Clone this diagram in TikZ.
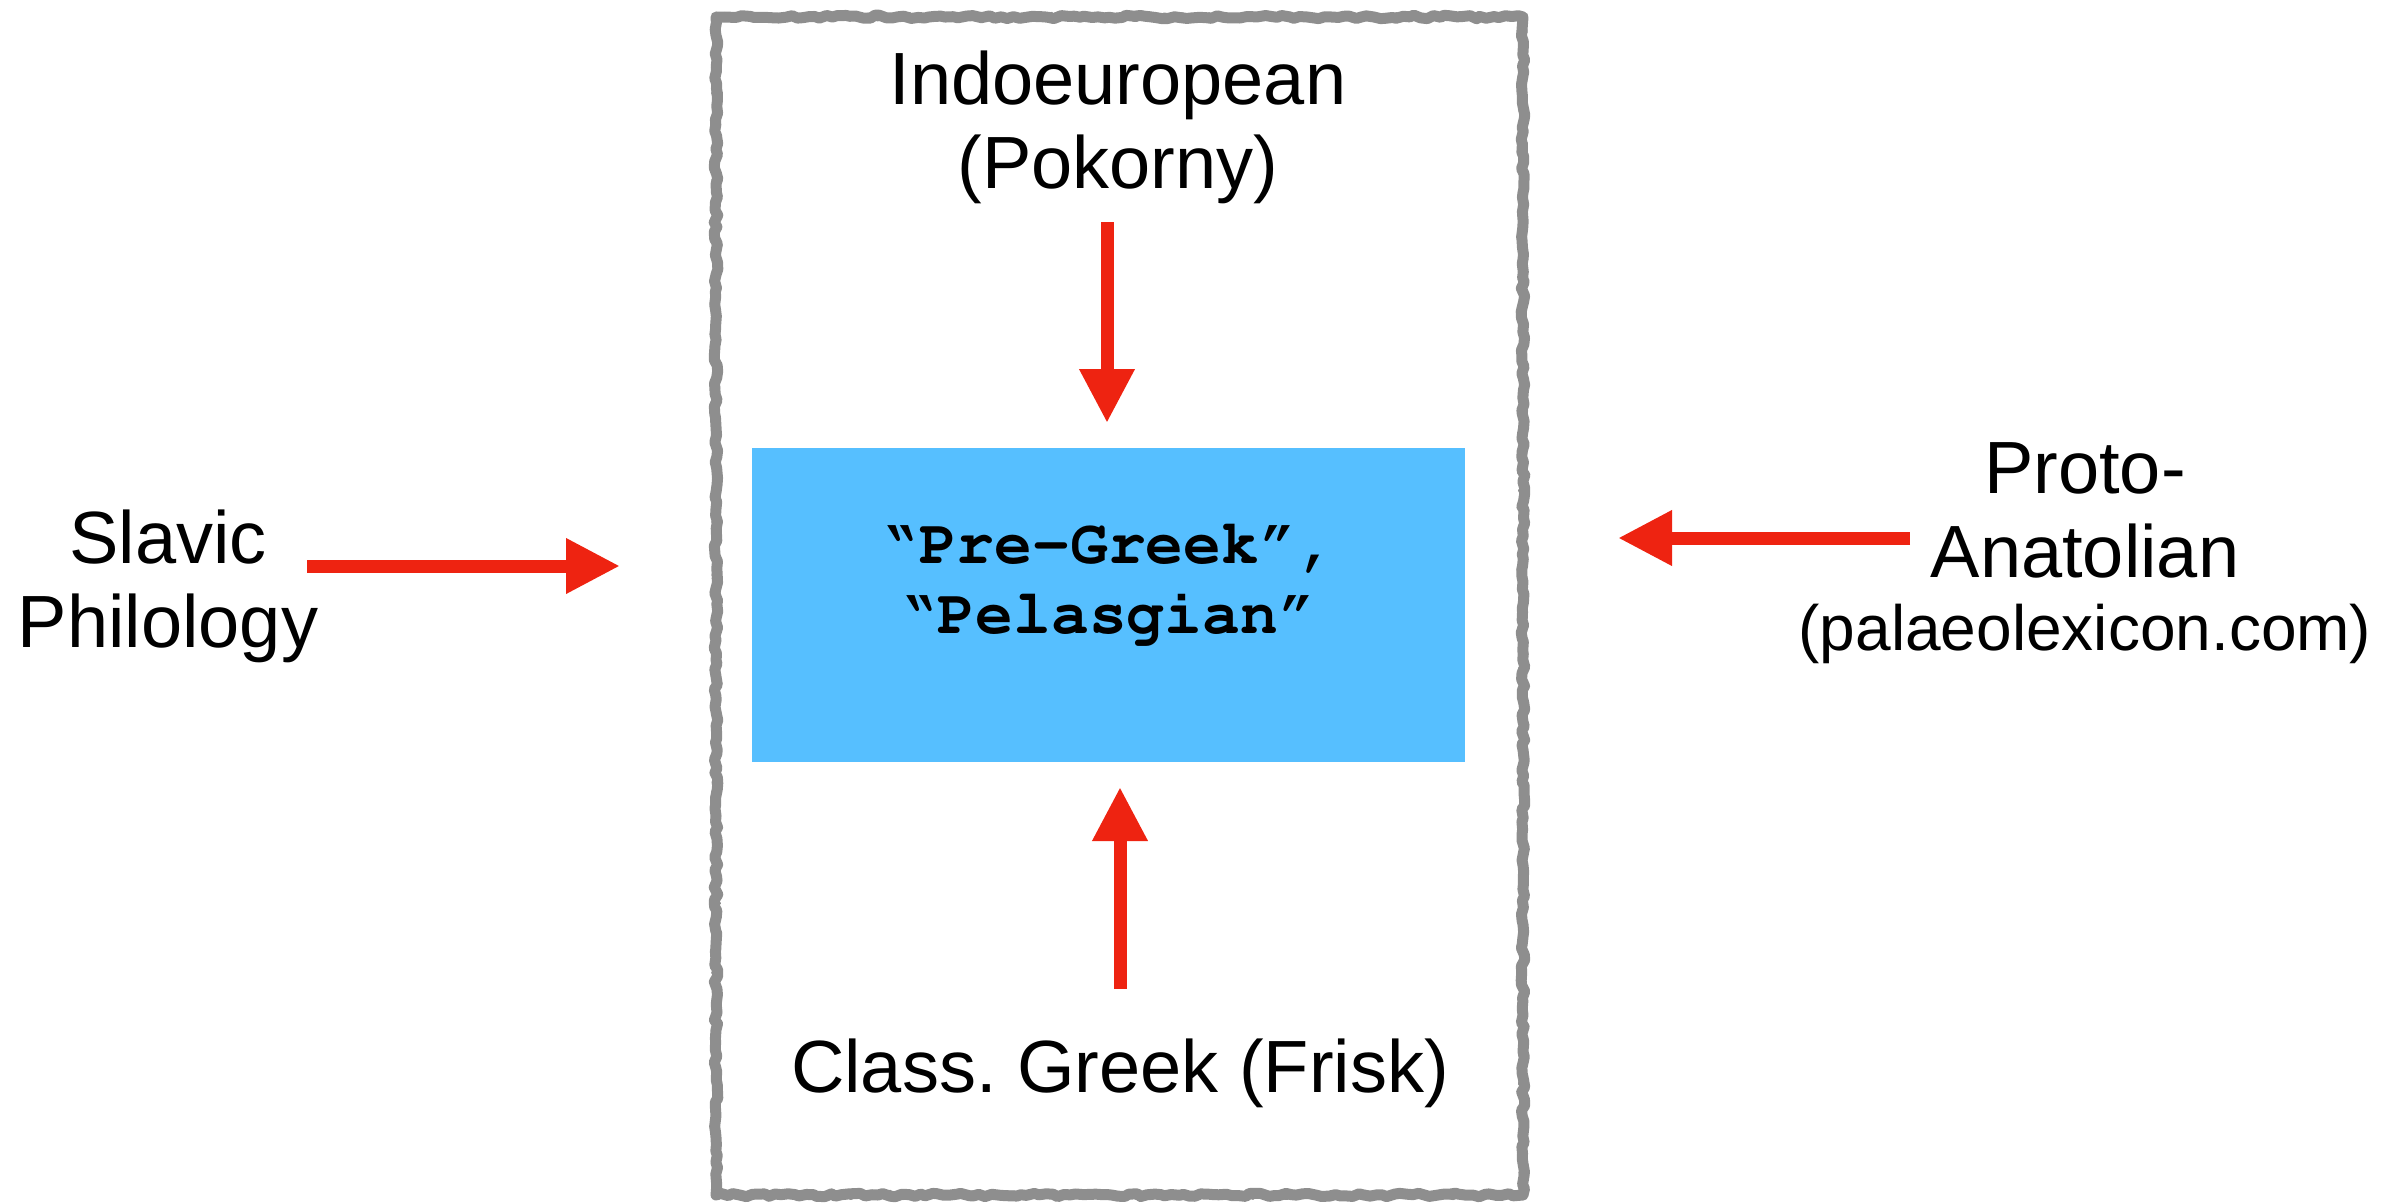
\documentclass[tikz,border=0pt]{standalone}
\usepackage[T1,TU]{fontenc}
\usepackage{fontspec}
\setmainfont{Liberation Sans}
\setmonofont{Liberation Mono}
\usetikzlibrary{arrows.meta,decorations.pathmorphing}
\definecolor{pgblue}{RGB}{86,191,255}
\definecolor{arrred}{RGB}{238,35,17}
\definecolor{framegray}{RGB}{142,142,142}
\newcommand{\courierbold}{\fontencoding{T1}\fontfamily{pcr}\fontseries{b}\fontshape{n}\fontsize{31.5}{35}\selectfont}
\frenchspacing
\begin{document}
\begin{tikzpicture}[x=0.5pt,y=-0.5pt,
  lbl/.style={align=center,inner sep=0pt,font=\fontsize{37}{42}\selectfont},
  smalllbl/.style={inner sep=0pt,font=\fontsize{32}{36}\selectfont},
  monolbl/.style={align=center,inner sep=0pt,font=\courierbold},
  blockbox/.style={fill=pgblue,inner sep=0pt,minimum width=356.5pt,minimum height=157pt},
  flow/.style={draw=arrred,line width=6.5pt,-{Triangle[length=27pt,width=26pt]}},
  sketch/.style={draw=framegray,line join=round,decorate,decoration={random steps,segment length=3pt,amplitude=0.9pt}}]
\useasboundingbox (0,0) rectangle (2405,1204);
\pgfmathsetseed{7}
% sketchy frame
\draw[sketch,line width=5.5pt] (716,17) rectangle (1523,1195);
\draw[sketch,line width=1.6pt,decoration={random steps,segment length=2pt,amplitude=1.8pt}] (716,17) rectangle (1523,1195);
% central block
\node[blockbox] (pg) at (1108.5,605) {};
\node[monolbl] (pgtext) at (1108,583) {``Pre-Greek'',\\``Pelasgian''};
% labels
\node[lbl] (ie) at (1118,127) {Indoeuropean\\(Pokorny)};
\node[lbl] (sl) at (168,586) {Slavic\\Philology};
\node[lbl] (pa) at (2085,510) {Proto-\\Anatolian};
\node[smalllbl,anchor=base] (pal) at (2085,650) {(palaeolexicon.com)};
\node[lbl,anchor=base] (cg) at (1120,1092) {Class.\ Greek (Frisk)};
% arrow end points
\coordinate (ieA) at (1107,222);
\coordinate (ieB) at (1107,423);
\coordinate (slA) at (307,566);
\coordinate (slB) at (620,566);
\coordinate (paA) at (1910,538);
\coordinate (paB) at (1618,538);
\coordinate (cgA) at (1120,989);
\coordinate (cgB) at (1120,787);
\draw[flow] (ieA) -- (ieB);
\draw[flow] (slA) -- (slB);
\draw[flow] (paA) -- (paB);
\draw[flow] (cgA) -- (cgB);
\end{tikzpicture}
\end{document}
